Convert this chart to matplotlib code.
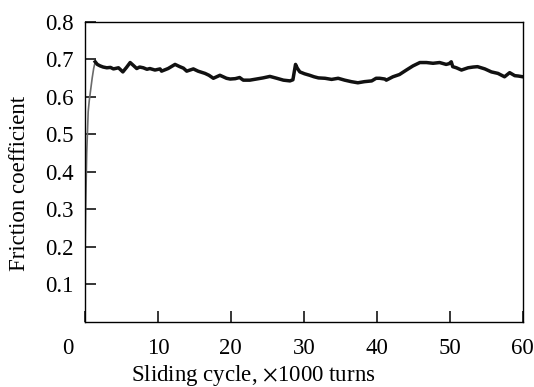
import matplotlib

matplotlib.use("Agg")

import matplotlib.pyplot as plt

plt.rcParams["font.family"] = ["Liberation Serif", "DejaVu Serif"]
plt.rcParams["mathtext.fontset"] = "stix"

# running-in part (drawn faint in the original)
rise_x = [0.0, 0.1, 0.25, 0.45, 0.6, 0.8, 1.0, 1.2, 1.41]
rise_y = [0.15, 0.30, 0.45, 0.56, 0.59, 0.62, 0.65, 0.675, 0.693]

# steady state friction, thousand cycles vs coefficient
cycles = [1.41, 1.7, 2.09, 2.5, 3.0, 3.5, 3.91, 4.6, 5.2, 5.7, 6.2, 6.6, 7.1, 7.5, 8.0,
          8.5, 8.9, 9.6, 10.3, 10.5, 11.4, 12.35, 13.0, 13.5, 13.95, 14.86, 15.5,
          16.46, 17.0, 17.6, 18.5, 19.4, 19.9, 20.6, 21.2, 21.7, 22.6, 23.5, 24.4,
          25.35, 26.3, 27.2, 28.1, 28.5, 28.86, 29.1, 29.45, 30.1, 30.8, 31.4, 32.0,
          32.9, 33.8, 34.7, 35.6, 36.5, 37.4, 38.3, 39.3, 39.9, 40.4, 41.1, 41.3,
          42.2, 43.1, 44.05, 44.95, 45.9, 46.8, 47.7, 48.6, 49.5, 49.9, 50.2, 50.4,
          50.9, 51.6, 52.5, 53.2, 53.8, 54.8, 55.7, 56.6, 57.5, 58.2, 58.9, 59.4, 60.0]
friction = [0.693, 0.686, 0.682, 0.679, 0.677, 0.678, 0.674, 0.677, 0.666, 0.678,
            0.691, 0.684, 0.675, 0.679, 0.677, 0.673, 0.675, 0.671, 0.674, 0.668,
            0.675, 0.686, 0.680, 0.676, 0.668, 0.674, 0.668, 0.662, 0.657, 0.649,
            0.657, 0.649, 0.647, 0.648, 0.651, 0.644, 0.644, 0.647, 0.650, 0.654,
            0.649, 0.644, 0.642, 0.645, 0.686, 0.676, 0.666, 0.661, 0.657, 0.653,
            0.650, 0.649, 0.646, 0.649, 0.644, 0.640, 0.637, 0.640, 0.642, 0.649,
            0.649, 0.647, 0.644, 0.653, 0.659, 0.671, 0.682, 0.691, 0.691, 0.689,
            0.691, 0.686, 0.688, 0.693, 0.680, 0.677, 0.671, 0.677, 0.679, 0.680,
            0.674, 0.666, 0.662, 0.653, 0.664, 0.656, 0.655, 0.653]

x_ticks = [0, 10, 20, 30, 40, 50, 60]
y_ticks = [0.1, 0.2, 0.3, 0.4, 0.5, 0.6, 0.7, 0.8]

FS = 16.5

fig = plt.figure(figsize=(5.34, 3.87), dpi=100)
ax = fig.add_axes((0.159, 0.169, 0.82, 0.775))

ax.plot(rise_x, rise_y, color="#6a6a6a", lw=1.2, solid_capstyle="round")
ax.plot(cycles, friction, color="#111111", lw=2.5, solid_joinstyle="round")

ax.set_xlim(0, 60)
ax.set_ylim(0, 0.8)
ax.set_xticks(x_ticks)
ax.set_xticklabels([""] + [str(t) for t in x_ticks[1:]])
ax.set_yticks(y_ticks)
ax.set_yticklabels(["%.1f" % t for t in y_ticks])
# shared origin label sits left of the corner
ax.annotate("0", xy=(0, 0), xycoords=("data", "axes fraction"), xytext=(-12, -11.5),
            textcoords="offset points", ha="center", va="top", fontsize=FS)

for side in ax.spines.values():
    side.set_linewidth(1.0)
ax.tick_params(direction="in", length=8, width=1.1, labelsize=FS)
ax.tick_params(axis="x", pad=11.5)
ax.tick_params(axis="y", pad=8)

ax.set_xlabel("Sliding cycle, $\\times$1000 turns", fontsize=FS)
ax.xaxis.set_label_coords(0.384, -0.137)
ax.set_ylabel("Friction coefficient", fontsize=FS)
ax.yaxis.set_label_coords(-0.126, 0.462)

plt.savefig("out.png", dpi=100)
